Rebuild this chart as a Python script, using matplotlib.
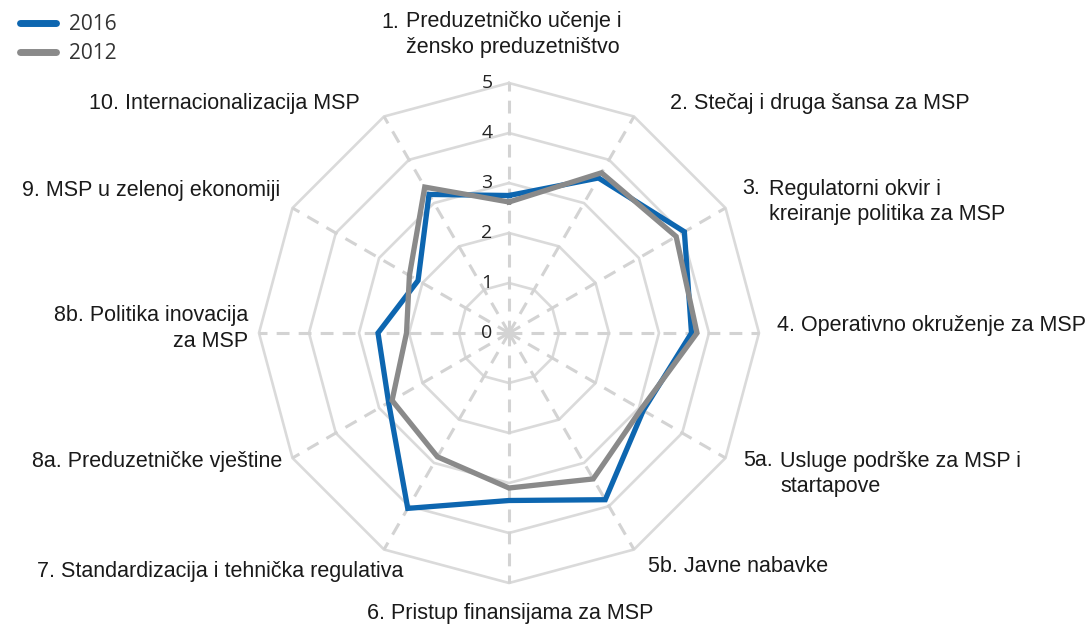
import numpy as np
import matplotlib
matplotlib.use("Agg")
import matplotlib.pyplot as plt
from matplotlib.transforms import offset_copy
from matplotlib.lines import Line2D

# ---- data ----
categories = ["1", "2", "3", "4", "5a", "5b", "6", "7", "8a", "8b", "9", "10"]
v2016 = [2.75, 3.58, 4.05, 3.65, 3.10, 3.85, 3.35, 4.05, 2.78, 2.62, 2.10, 3.20]
v2012 = [2.62, 3.70, 3.86, 3.76, 3.05, 3.37, 3.10, 2.86, 2.70, 2.05, 2.30, 3.37]
series_names = ["2016", "2012"]
ring_values = [1, 2, 3, 4, 5]
tick_labels = ["0", "1", "2", "3", "4", "5"]

# label texts: (prefix, body lines)
label_prefix = ["1.", "2.", "3.", "4.", "5a.", "5b.", "6.", "7.", "8a.", "8b.", "9.", "10."]
label_body = [
    ["Preduzetničko učenje i", "žensko preduzetništvo"],
    ["Stečaj i druga šansa za MSP"],
    ["Regulatorni okvir i", "kreiranje politika za MSP"],
    ["Operativno okruženje za MSP"],
    ["Usluge podrške za MSP i", "startapove"],
    ["Javne nabavke"],
    ["Pristup finansijama za MSP"],
    ["Standardizacija i tehnička regulativa"],
    ["Preduzetničke vještine"],
    ["Politika inovacija", "za MSP"],
    ["MSP u zelenoj ekonomiji"],
    ["Internacionalizacija MSP"],
]

W, H = 1088, 626
fig = plt.figure(figsize=(W / 100, H / 100), dpi=100)
fig.patch.set_facecolor("white")

cx, cy, R = 509, 333, 250
ax = fig.add_axes([(cx - R) / W, (H - cy - R) / H, 2 * R / W, 2 * R / H], projection="polar")
ax.set_theta_offset(np.pi / 2)
ax.set_theta_direction(-1)
ax.set_ylim(0, 5)
ax.axis("off")

n = len(categories)
theta = np.linspace(0, 2 * np.pi, n, endpoint=False)
theta_closed = np.append(theta, theta[0])

grid_color = "#dadada"
# rings
for rv in ring_values:
    ax.plot(theta_closed, [rv] * (n + 1), color=grid_color, lw=1.9, zorder=1,
            solid_joinstyle="miter", clip_on=False)
# radial dashed lines
for t in theta:
    ax.plot([t, t], [0, 5], color="#d3d3d3", lw=2.2, dashes=(4.2, 3.0), zorder=1,
            clip_on=False)

blue = "#0d66b0"
gray = "#8a8a8a"
ax.plot(theta_closed, v2016 + [v2016[0]], color=blue, lw=3.8, zorder=3,
        solid_joinstyle="miter", clip_on=False)
ax.plot(theta_closed, v2012 + [v2012[0]], color=gray, lw=3.8, zorder=4,
        solid_joinstyle="miter", clip_on=False)

# tick labels on the vertical axis
tr = offset_copy(ax.transData, fig=fig, x=-22, y=0, units="dots")
for i, tl in enumerate(tick_labels):
    ax.text(0, i, tl, transform=tr, ha="center", va="center", fontsize=14,
            family=["Open Sans", "DejaVu Sans"], color="#222222", zorder=5)

# legend
handles = [Line2D([], [], color=blue, lw=5, solid_capstyle="round"),
           Line2D([], [], color=gray, lw=5, solid_capstyle="round")]
leg = fig.legend(handles, series_names, loc="upper left",
                 bbox_to_anchor=(20 / W, 1 - 14 / H), frameon=False,
                 borderpad=0, borderaxespad=0,
                 handlelength=1.75, handletextpad=0.6, labelspacing=0.38,
                 prop={"family": ["Open Sans", "DejaVu Sans"], "size": 15})
for t in leg.get_texts():
    t.set_color("#333333")

# category labels (pixel positions of text anchors)
lab_font = {"family": ["Liberation Sans", "DejaVu Sans"], "size": 15.5, "color": "#1a1a1a"}
line_gap = 25.5
# (x, y_first_line_center, align, body_indent)
label_pos = [
    (381, 22, "hang", 25),
    (670, 103, "left", 0),
    (742, 189, "hang", 27),
    (777, 326, "left", 0),
    (743, 461, "hang", 37),
    (648, 567, "left", 0),
    (510, 613, "center", 0),
    (403, 572, "right", 0),
    (282, 462, "right", 0),
    (248, 316, "right", 0),
    (280, 190, "right", 0),
    (360, 104, "right", 0),
]


def fx(px):
    return px / W


def fy(py):
    return 1 - py / H


for (x, y, al, ind), pre, body in zip(label_pos, label_prefix, label_body):
    if al == "hang":
        fig.text(fx(x), fy(y), pre, ha="left", va="center", **lab_font)
        for k, line in enumerate(body):
            fig.text(fx(x + ind), fy(y + k * line_gap), line, ha="left", va="center", **lab_font)
    else:
        lines = [pre + " " + body[0]] + body[1:]
        for k, line in enumerate(lines):
            fig.text(fx(x), fy(y + k * line_gap), line, ha=al, va="center", **lab_font)

fig.savefig("out.png", dpi=100, facecolor="white")
